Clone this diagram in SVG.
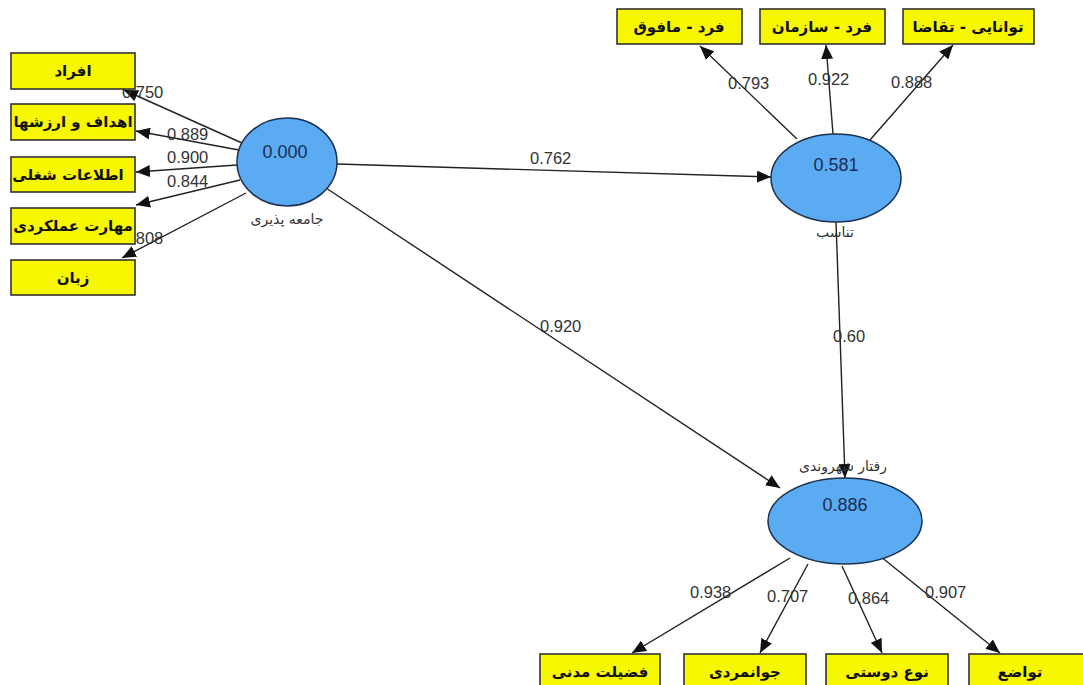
<svg xmlns="http://www.w3.org/2000/svg" width="1083" height="685" viewBox="0 0 1083 685">
<defs>
<marker id="arr" markerUnits="userSpaceOnUse" markerWidth="15" markerHeight="12" refX="14" refY="6" orient="auto">
<path d="M0,0 L14,6 L0,12 Z" fill="#111"/>
</marker>
<style>
.box{fill:#f7f700;stroke:#333;stroke-width:1.6}
.bt{font-family:"DejaVu Sans",sans-serif;font-weight:bold;font-size:15px;fill:#111;text-anchor:middle}
.lv{fill:#5aabf2;stroke:#1e3050;stroke-width:1.5}
.lvt{font-family:"Liberation Sans",sans-serif;font-size:18px;fill:#1c2c55;text-anchor:middle}
.lbl{font-family:"DejaVu Sans",sans-serif;font-size:14px;fill:#333;text-anchor:middle}
.num{font-family:"Liberation Sans",sans-serif;font-size:16.5px;fill:#333}
.c{stroke:#222;stroke-width:1.4;fill:none;marker-end:url(#arr)}
</style>
</defs>
<rect width="1083" height="685" fill="#fff"/>

<g id="connectors">
<line class="c" x1="242" y1="143" x2="124" y2="90"/>
<line class="c" x1="239" y1="150" x2="136" y2="131"/>
<line class="c" x1="237" y1="165" x2="136" y2="172"/>
<line class="c" x1="240" y1="180" x2="136" y2="205"/>
<line class="c" x1="246" y1="193" x2="122" y2="258"/>
<line class="c" x1="337" y1="164" x2="771" y2="177"/>
<line class="c" x1="326" y1="188" x2="780" y2="488"/>
<line class="c" x1="836" y1="222" x2="845" y2="478"/>
<line class="c" x1="797" y1="139" x2="700" y2="46"/>
<line class="c" x1="833" y1="134" x2="826" y2="45"/>
<line class="c" x1="870" y1="140" x2="953" y2="45"/>
<line class="c" x1="790" y1="558" x2="632" y2="653"/>
<line class="c" x1="808" y1="564" x2="760" y2="653"/>
<line class="c" x1="842" y1="566" x2="882" y2="653"/>
<line class="c" x1="880" y1="556" x2="1000" y2="653"/>
<text class="num" x="122" y="98">0.750</text>
<text class="num" x="167" y="140">0.889</text>
<text class="num" x="167" y="163">0.900</text>
<text class="num" x="167" y="187">0.844</text>
<text class="num" x="122" y="244">0.808</text>
<text class="num" x="530" y="164">0.762</text>
<text class="num" x="540" y="332">0.920</text>
<text class="num" x="833" y="342">0.60</text>
<text class="num" x="728" y="89">0.793</text>
<text class="num" x="808" y="85">0.922</text>
<text class="num" x="891" y="88">0.888</text>
<text class="num" x="690" y="598">0.938</text>
<text class="num" x="767" y="602">0.707</text>
<text class="num" x="848" y="604">0.864</text>
<text class="num" x="925" y="598">0.907</text>
</g>

<g id="n-afrad"><rect class="box" x="11" y="53" width="124" height="36"/><text class="bt" x="73" y="76">افراد</text></g>
<g id="n-ahdaf"><rect class="box" x="11" y="104" width="124" height="36"/><text class="bt" x="73" y="127">اهداف و ارزشها</text></g>
<g id="n-etelaat"><rect class="box" x="11" y="157" width="124" height="35"/><text class="bt" x="68" y="180">اطلاعات شغلی</text></g>
<g id="n-maharat"><rect class="box" x="11" y="208" width="124" height="36"/><text class="bt" x="73" y="231">مهارت عملکردی</text></g>
<g id="n-zaban"><rect class="box" x="11" y="260" width="124" height="35"/><text class="bt" x="73" y="283">زبان</text></g>

<g id="n-fard-mafogh"><rect class="box" x="617" y="9" width="125" height="35"/><text class="bt" x="679" y="32">فرد - مافوق</text></g>
<g id="n-fard-sazman"><rect class="box" x="760" y="9" width="125" height="35"/><text class="bt" x="822" y="32">فرد - سازمان</text></g>
<g id="n-tavanaei"><rect class="box" x="903" y="9" width="131" height="35"/><text class="bt" x="968" y="32">توانایی - تقاضا</text></g>

<g id="n-fazilat"><rect class="box" x="540" y="654" width="120" height="40"/><text class="bt" x="600" y="677">فضیلت مدنی</text></g>
<g id="n-javanmardi"><rect class="box" x="684" y="654" width="122" height="40"/><text class="bt" x="745" y="677">جوانمردی</text></g>
<g id="n-nowdousti"><rect class="box" x="826" y="654" width="122" height="40"/><text class="bt" x="887" y="677">نوع دوستی</text></g>
<g id="n-tavazo"><rect class="box" x="969" y="654" width="120" height="40"/><text class="bt" x="1020" y="677">تواضع</text></g>

<g id="n-jameeh"><ellipse class="lv" cx="287" cy="162" rx="50" ry="44"/><text class="lvt" x="285" y="158">0.000</text><text class="lbl" x="287" y="224">جامعه پذیری</text></g>
<g id="n-tanasob"><ellipse class="lv" cx="836" cy="178" rx="65" ry="44"/><text class="lvt" x="836" y="171">0.581</text><text class="lbl" x="835" y="237">تناسب</text></g>
<g id="n-raftar"><ellipse class="lv" cx="845" cy="521" rx="77" ry="43"/><text class="lvt" x="845" y="511">0.886</text><text class="lbl" x="843" y="471">رفتار شهروندی</text></g>
</svg>
